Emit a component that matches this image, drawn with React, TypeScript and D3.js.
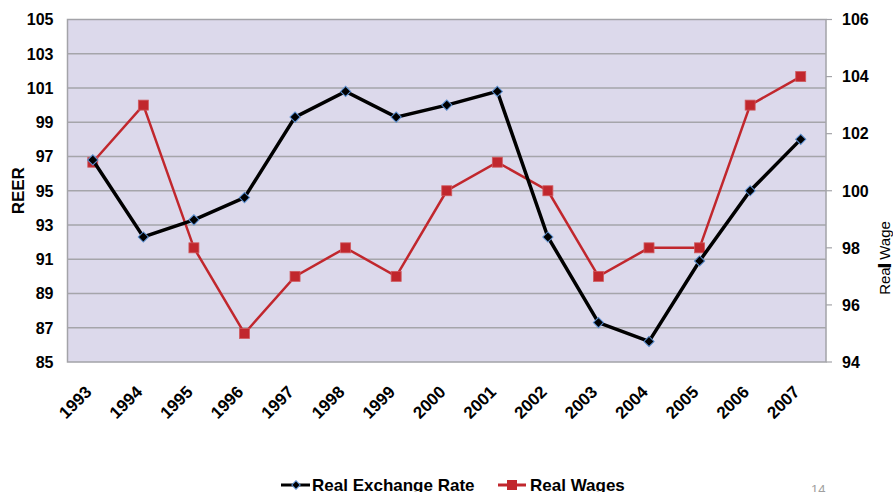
import * as d3 from "d3";
import React from "react";

const years = ["1993", "1994", "1995", "1996", "1997", "1998", "1999", "2000", "2001", "2002", "2003", "2004", "2005", "2006", "2007"];
const reer = [96.8, 92.3, 93.3, 94.6, 99.3, 100.8, 99.3, 100.0, 100.8, 92.3, 87.3, 86.2, 90.9, 95.0, 98.0];
const realWages = [101, 103, 98, 95, 97, 98, 97, 100, 101, 100, 97, 98, 98, 103, 104];
const leftTicks = [85, 87, 89, 91, 93, 95, 97, 99, 101, 103, 105];
const rightTicks = [94, 96, 98, 100, 102, 104, 106];

const W = 893, H = 492;
const margin = { top: 19.5, right: 67, bottom: 130, left: 67.5 };
const FONT = "'Liberation Sans', Arial, sans-serif";

const App = () => {
	const innerW = W - margin.left - margin.right;
	const innerH = H - margin.top - margin.bottom;

	const x = d3.scaleBand().domain(years).range([0, innerW]);
	const yL = d3.scaleLinear().domain([85, 105]).range([innerH, 0]);
	const yR = d3.scaleLinear().domain([94, 106]).range([innerH, 0]);
	const cx = (i: number) => x(years[i])! + x.bandwidth() / 2;

	const lineL = d3.line<number>().x((_, i) => cx(i)).y((d) => yL(d));
	const lineR = d3.line<number>().x((_, i) => cx(i)).y((d) => yR(d));
	// rotated square, like Excel's diamond marker
	const diamond = d3.symbol(d3.symbolSquare, 52)()!;

	return (
		<svg width={W} height={H} style={{ position: "absolute", left: 0, top: 0, fontFamily: FONT }}>
			<rect width={W} height={H} fill="#fff" />
			<g transform={`translate(${margin.left},${margin.top})`}>
				<rect width={innerW} height={innerH} fill="#DCD9EB" stroke="#A3A3A8" strokeWidth={1.5} />
				{leftTicks.slice(1, -1).map((t) => (
					<line key={t} x1={0} x2={innerW} y1={yL(t)} y2={yL(t)} stroke="#A5A5AA" strokeWidth={1.5} />
				))}
				{leftTicks.map((t) => (
					<text key={t} x={-14} y={yL(t)} dy="0.36em" textAnchor="end" fontSize={16} fontWeight="bold">{t}</text>
				))}
				{rightTicks.map((t) => (
					<g key={t}>
						<line x1={innerW} x2={innerW + 6} y1={yR(t)} y2={yR(t)} stroke="#A3A3A8" strokeWidth={1.2} />
						<text x={innerW + 16} y={yR(t)} dy="0.36em" fontSize={16} fontWeight="bold">{t}</text>
					</g>
				))}
				{years.map((yr, i) => (
					<text key={yr} transform={`translate(${cx(i)},${innerH + 31}) rotate(-45)`} textAnchor="end" fontSize={17} fontWeight="bold">{yr}</text>
				))}
				<path d={lineR(realWages)!} fill="none" stroke="#C1272D" strokeWidth={2.5} />
				{realWages.map((v, i) => (
					<rect key={i} x={cx(i) - 5} y={yR(v) - 5} width={10} height={10} fill="#C1272D" stroke="#D05A5F" strokeWidth={0.8} />
				))}
				<path d={lineL(reer)!} fill="none" stroke="#000" strokeWidth={3.5} />
				{reer.map((v, i) => (
					<path key={i} d={diamond} transform={`translate(${cx(i)},${yL(v)}) rotate(45)`} fill="#000" stroke="#5B8FD0" strokeWidth={1} />
				))}
			</g>
			<text transform={`translate(24,${margin.top + innerH / 2}) rotate(-90)`} textAnchor="middle" fontSize={17} fontWeight="bold">REER</text>
			<text transform={`translate(890,258) rotate(-90)`} textAnchor="middle" fontSize={15}>
				Rea<tspan stroke="#000" strokeWidth={2}>l</tspan> Wage
			</text>
			<g>
				<line x1={281} x2={310} y1={485} y2={485} stroke="#000" strokeWidth={3} />
				<path d={d3.symbol(d3.symbolSquare, 36)()!} transform="translate(296,485) rotate(45)" fill="#000" stroke="#5B8FD0" strokeWidth={1} />
				<text x={312} y={491} fontSize={17} fontWeight="bold">Real Exchange Rate</text>
				<line x1={498} x2={526} y1={485} y2={485} stroke="#C1272D" strokeWidth={3} />
				<rect x={507} y={480} width={10} height={10} fill="#C1272D" />
				<text x={530} y={491} fontSize={17} fontWeight="bold">Real Wages</text>
				<text x={811} y={494} fontSize={13} fill="#A0A0A0">14</text>
			</g>
		</svg>
	);
};

export default App;
